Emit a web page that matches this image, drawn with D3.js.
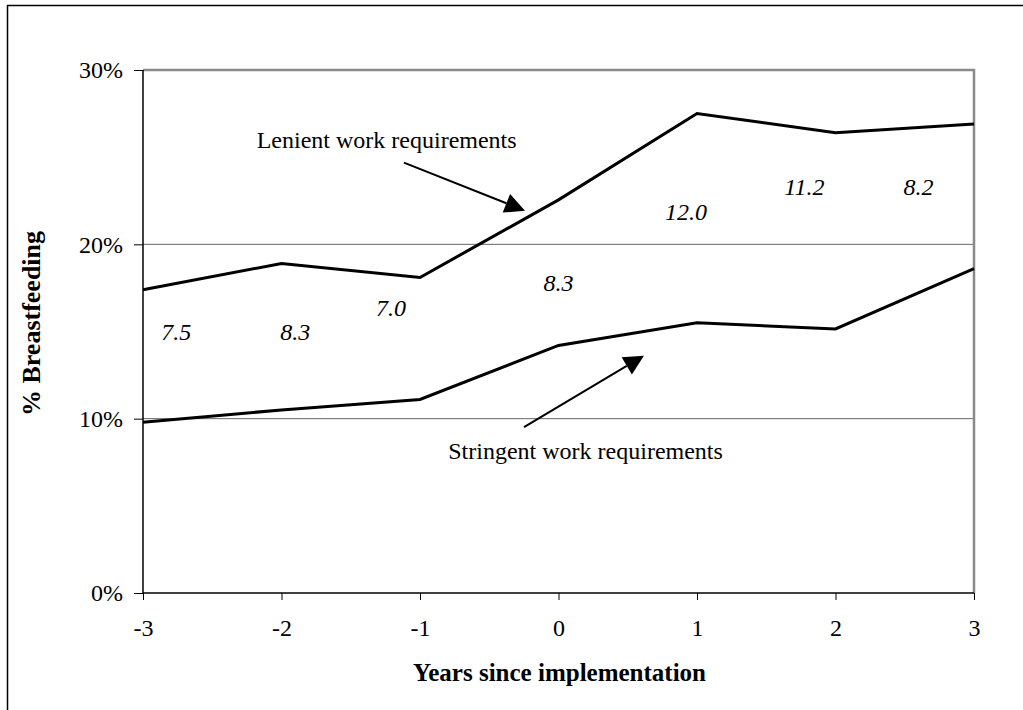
<!DOCTYPE html>
<html><head><meta charset="utf-8">
<script src="https://cdn.jsdelivr.net/npm/d3@7"></script>
<style>html,body{margin:0;padding:0;background:#fff;}svg{display:block;}</style>
</head><body>
<svg id="chart" width="1023" height="710"></svg>
<script>
// ---- data ----
const years = [-3, -2, -1, 0, 1, 2, 3];
const lenient = [17.4, 18.9, 18.1, 22.55, 27.5, 26.4, 26.9];
const stringent = [9.8, 10.5, 11.1, 14.2, 15.5, 15.15, 18.6];
const yTicks = [0, 10, 20, 30];
const gapLabels = ["7.5", "8.3", "7.0", "8.3", "12.0", "11.2", "8.2"];
const gapLabelX = [-2.76, -1.90, -1.21, 0.0, 0.92, 1.775, 2.6];
const gapLabelY = [14.54, 14.54, 15.87, 17.31, 21.42, 22.85, 22.85];
const seriesNames = ["Lenient work requirements", "Stringent work requirements"];
const nameX = [-2.179, -0.796];
const nameY = [25.51, 7.69];
const arrowFrom = [[-1.116, 24.69], [-0.249, 9.52]];
const arrowTo = [[-0.242, 21.93], [0.617, 13.61]];

// ---- layout ----
const svg = d3.select("#chart");
const L = 143, R = 974, T = 70, B = 593;
const x = d3.scaleLinear().domain([-3, 3]).range([L, R]);
const y = d3.scaleLinear().domain([0, 30]).range([B, T]);
const font = "'Liberation Serif','Times New Roman',serif";

// outer frame (top and left)
svg.append("path").attr("d", `M7.5,710 L7.5,5.5 L1023,5.5`)
  .attr("fill", "none").attr("stroke", "#000").attr("stroke-width", 1.5);

// gridlines
svg.append("g").selectAll("line").data(yTicks.filter(d => d > 0 && d < 30)).join("line")
  .attr("x1", L).attr("x2", R).attr("y1", d => y(d)).attr("y2", d => y(d))
  .attr("stroke", "#666").attr("stroke-width", 1);

// top/right gray border
svg.append("path").attr("d", `M${L},${T} L${R},${T} L${R},${B}`)
  .attr("fill", "none").attr("stroke", "#8a8a8a").attr("stroke-width", 2.5);

// axes
const yAxis = d3.axisLeft(y).tickValues(yTicks).tickFormat(d => d + "%").tickSize(9).tickPadding(11);
const gy = svg.append("g").attr("transform", `translate(${L},0)`).call(yAxis);
const xAxis = d3.axisBottom(x).tickValues(years).tickFormat(d => d).tickSize(7).tickPadding(19);
const gx = svg.append("g").attr("transform", `translate(0,${B})`).call(xAxis);
[gx, gy].forEach(g => {
  g.select(".domain").attr("stroke", "#000").attr("stroke-width", 1.5);
  g.selectAll(".tick line").attr("stroke", "#000").attr("stroke-width", 1);
  g.selectAll(".tick text").attr("fill", "#000").style("font-family", font).style("font-size", "24px");
});
gx.select(".domain").attr("d", `M${L},0H${R}`);
gy.select(".domain").attr("d", `M0,${T}V${B}`);

// series lines
const line = d3.line().x((d, i) => x(years[i])).y(d => y(d));
[lenient, stringent].forEach(s => {
  svg.append("path").datum(s).attr("d", line)
    .attr("fill", "none").attr("stroke", "#000").attr("stroke-width", 3).attr("stroke-linejoin", "miter");
});

// gap labels
svg.append("g").selectAll("text").data(gapLabels).join("text")
  .attr("x", (d, i) => x(gapLabelX[i])).attr("y", (d, i) => y(gapLabelY[i]))
  .attr("text-anchor", "middle").style("font-family", font).style("font-size", "24px")
  .style("font-style", "italic").text(d => d);

// series names
svg.append("g").selectAll("text").data(seriesNames).join("text")
  .attr("x", (d, i) => x(nameX[i])).attr("y", (d, i) => y(nameY[i]))
  .style("font-family", font).style("font-size", "24px").text(d => d);

// arrows
arrowFrom.forEach((f, i) => {
  const x1 = x(f[0]), y1 = y(f[1]), x2 = x(arrowTo[i][0]), y2 = y(arrowTo[i][1]);
  const dx = x2 - x1, dy = y2 - y1, len = Math.hypot(dx, dy);
  const ux = dx / len, uy = dy / len, hl = 20, hw = 10;
  const bx = x2 - ux * hl, by = y2 - uy * hl;
  svg.append("line").attr("x1", x1).attr("y1", y1).attr("x2", bx).attr("y2", by)
    .attr("stroke", "#000").attr("stroke-width", 2);
  svg.append("polygon")
    .attr("points", [[x2, y2], [bx - uy * hw, by + ux * hw], [bx + uy * hw, by - ux * hw]].map(p => p.join(",")).join(" "))
    .attr("fill", "#000");
});

// axis titles
svg.append("text").attr("x", (L + R) / 2 + 1).attr("y", 681).attr("text-anchor", "middle")
  .style("font-family", font).style("font-size", "25px").style("font-weight", "bold")
  .text("Years since implementation");
svg.append("text").attr("transform", `translate(40,${(T + B) / 2 - 8}) rotate(-90)`).attr("text-anchor", "middle")
  .style("font-family", font).style("font-size", "26px").style("font-weight", "bold")
  .text("% Breastfeeding");
</script>
</body></html>
